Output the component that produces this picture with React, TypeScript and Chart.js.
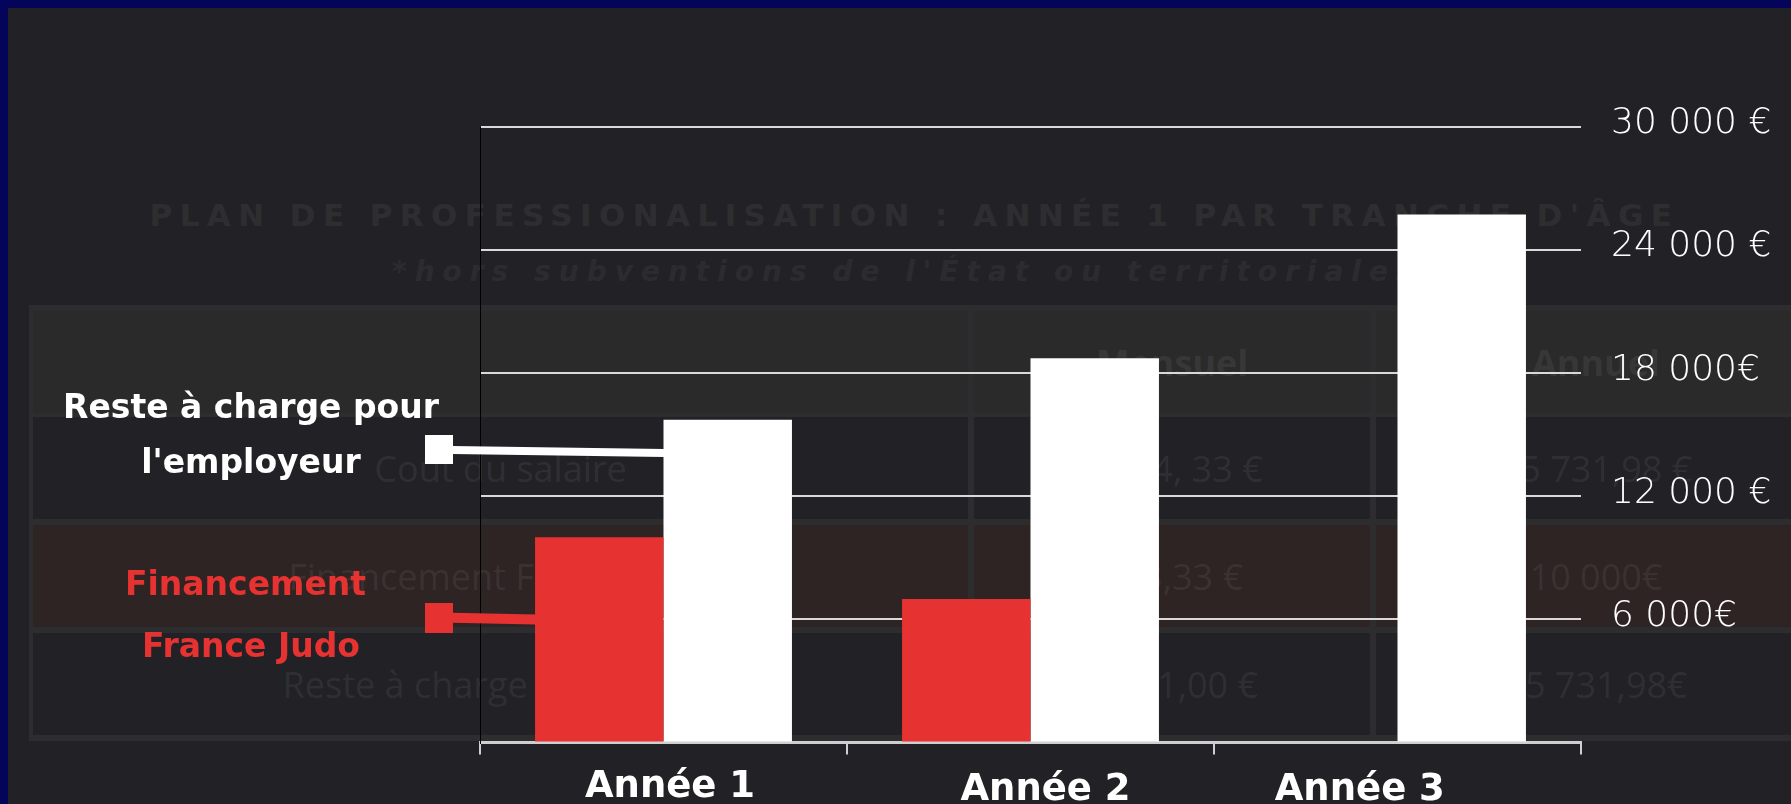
import React, { useEffect, useRef } from "react";
import { Chart, registerables } from "chart.js";

Chart.register(...registerables);

// ---------- data ----------
const categories = ["Année 1", "Année 2", "Année 3"];
const financementFranceJudo = [10000, 7000, 0];
const resteAChargeEmployeur = [15731.98, 18731.98, 25731.98];
const seriesNames = ["Financement France Judo", "Reste à charge pour l'employeur"];
const yTickValues = [0, 6000, 12000, 18000, 24000, 30000];
const yTickLabels = ["", "6 000€", "12 000 €", "18 000€", "24 000 €", "30 000 €"];
const whiteCalloutText = ["Reste à charge pour", "l'employeur"];
const redCalloutText = ["Financement", "France Judo"];

// faded background slide content
const titleText = "PLAN DE PROFESSIONALISATION : ANNÉE 1 PAR TRANCHE D'ÂGE";
const subtitleText = "*hors subventions de l'État ou territoriales";
const tableHeader = ["", "Mensuel", "Annuel"];
const tableRows = [
  ["Coût du salaire", "2 144, 33 €", "25 731,98 €"],
  ["Financement France Judo", "833,33 €", "10 000€"],
  ["Reste à charge employeur", "1 311,00 €", "15 731,98€"],
];

// ---------- styles ----------
const NAVY = "#05045b";
const PANEL = "#222226";
const RED = "#e73232";
const WHITE = "#ffffff";
const GRID = "#d9d9d9";
const AXIS = "#cfcfcf";
const W = 1783;
const H = 796;
const BOLD = "'DejaVu Sans', sans-serif";
const xLabelNudge = [6.5, 15, -37.7];
const xLabelBaseline = [788.7, 792, 792];
const rowTops = [303, 409, 517, 625];
const rowHeight = 102;
const rowFills = ["#2a2a2a", PANEL, "#2f2424", PANEL];
const colLefts = [25, 966, 1368];
const colWidths = [935, 396, 440];
const FADED = "rgba(255,255,255,0.075)";

const annotationPlugin = {
  id: "calloutsAndLabels",
  afterDraw(chart: any) {
    const ctx = chart.ctx as CanvasRenderingContext2D;
    const xs = chart.scales.x;
    ctx.save();
    ctx.font = `bold 37px ${BOLD}`;
    ctx.fillStyle = WHITE;
    ctx.textAlign = "center";
    ctx.textBaseline = "alphabetic";
    categories.forEach((c, i) => {
      ctx.fillText(c, xs.getPixelForValue(i) + xLabelNudge[i], xLabelBaseline[i]);
    });

    const red = chart.getDatasetMeta(0).data[0];
    const white = chart.getDatasetMeta(1).data[0];
    const redLeft = red.x - red.width / 2;
    const whiteLeft = white.x - white.width / 2;

    ctx.fillStyle = WHITE;
    ctx.strokeStyle = WHITE;
    ctx.fillRect(417, 427, 28, 29);
    ctx.lineWidth = 8;
    ctx.beginPath();
    ctx.moveTo(444, 442);
    ctx.lineTo(whiteLeft + 1, 445);
    ctx.stroke();

    ctx.fillStyle = RED;
    ctx.strokeStyle = RED;
    ctx.fillRect(417, 595, 28, 30);
    ctx.lineWidth = 10;
    ctx.beginPath();
    ctx.moveTo(444, 609.7);
    ctx.lineTo(redLeft + 1, 611.5);
    ctx.stroke();

    ctx.font = `bold 33px ${BOLD}`;
    ctx.fillStyle = WHITE;
    ctx.fillText(whiteCalloutText[0], 243, 410);
    ctx.fillText(whiteCalloutText[1], 243, 464.7);
    ctx.fillStyle = RED;
    ctx.fillText(redCalloutText[0], 237.5, 587);
    ctx.fillText(redCalloutText[1], 243, 648.7);
    ctx.restore();
  },
};

export default function App() {
  const ref = useRef<HTMLCanvasElement>(null);

  useEffect(() => {
    document.documentElement.style.background = NAVY;
    document.body.style.background = NAVY;
    document.documentElement.style.overflow = "hidden";
    const canvas = ref.current;
    if (!canvas) return;
    const chart = new Chart(canvas, {
      type: "bar",
      data: {
        labels: categories,
        datasets: [
          {
            label: seriesNames[0],
            data: financementFranceJudo,
            backgroundColor: RED,
            borderWidth: 0,
            categoryPercentage: 0.7,
            barPercentage: 1.0,
          },
          {
            label: seriesNames[1],
            data: resteAChargeEmployeur,
            backgroundColor: WHITE,
            borderWidth: 0,
            categoryPercentage: 0.7,
            barPercentage: 1.0,
          },
        ],
      },
      options: {
        responsive: false,
        animation: false,
        devicePixelRatio: 1,
        layout: { padding: { top: 119, bottom: 0, left: 0, right: 0 } },
        plugins: {
          legend: { display: false },
          tooltip: { enabled: false },
        },
        scales: {
          x: {
            grid: {
              display: true,
              drawOnChartArea: false,
              drawTicks: true,
              tickLength: 12,
              color: AXIS,
              lineWidth: 2,
              offset: true,
            },
            border: { display: true, color: AXIS, width: 3 },
            ticks: { display: false },
            afterFit: (s: any) => {
              s.height = 61.5;
            },
          },
          y: {
            position: "left",
            min: 0,
            max: 30000,
            ticks: { display: false, stepSize: 6000 },
            grid: { color: GRID, lineWidth: 2, drawTicks: false },
            border: { display: true, color: "#000000", width: 1 },
            afterFit: (s: any) => {
              s.width = 472;
            },
          },
          yRight: {
            position: "right",
            min: 0,
            max: 30000,
            grid: { display: false, drawTicks: false },
            border: { display: false },
            ticks: {
              stepSize: 6000,
              color: WHITE,
              padding: 30,
              labelOffset: -3,
              font: { family: "'DejaVu Sans', Inter, sans-serif", size: 36, weight: "200" },
              callback: (v: any) => {
                const i = yTickValues.indexOf(Number(v));
                return i >= 0 ? yTickLabels[i] : "";
              },
            },
            afterFit: (s: any) => {
              s.width = 210;
            },
          },
        },
      } as any,
      plugins: [annotationPlugin],
    });
    return () => chart.destroy();
  }, []);

  return (
    <div
      style={{
        position: "fixed",
        left: 8,
        top: 8,
        width: W + 40,
        height: H + 40,
        background: PANEL,
        overflow: "hidden",
      }}
    >
      <div
        style={{
          position: "absolute",
          left: 0,
          top: 187,
          width: 1813,
          textAlign: "center",
          whiteSpace: "nowrap",
          font: `bold 31px ${BOLD}`,
          lineHeight: "40px",
          letterSpacing: "7.4px",
          color: "#2e2e31",
        }}
      >
        {titleText}
      </div>
      <div
        style={{
          position: "absolute",
          left: 384,
          top: 244,
          whiteSpace: "nowrap",
          font: `italic bold 28px ${BOLD}`,
          lineHeight: "40px",
          letterSpacing: "8px",
          color: "#2c2c30",
        }}
      >
        {subtitleText}
      </div>
      <div
        style={{
          position: "absolute",
          left: 21,
          top: 297,
          width: 1800,
          height: 436,
          background: "#2d2d2f",
        }}
      />
      {[tableHeader, ...tableRows].map((row, r) =>
        row.map((cell, c) => (
          <div
            key={`${r}-${c}`}
            style={{
              position: "absolute",
              left: colLefts[c],
              top: rowTops[r],
              width: colWidths[c],
              height: rowHeight,
              background: rowFills[r],
              display: "flex",
              alignItems: "center",
              justifyContent: "center",
              fontFamily: "'Open Sans', sans-serif",
              fontSize: 36,
              fontWeight: r === 0 ? 700 : 400,
              color: FADED,
              whiteSpace: "nowrap",
            }}
          >
            {cell}
          </div>
        ))
      )}
      <canvas
        ref={ref}
        width={W}
        height={H}
        style={{ position: "absolute", left: 0, top: 0, width: W, height: H }}
      />
    </div>
  );
}
